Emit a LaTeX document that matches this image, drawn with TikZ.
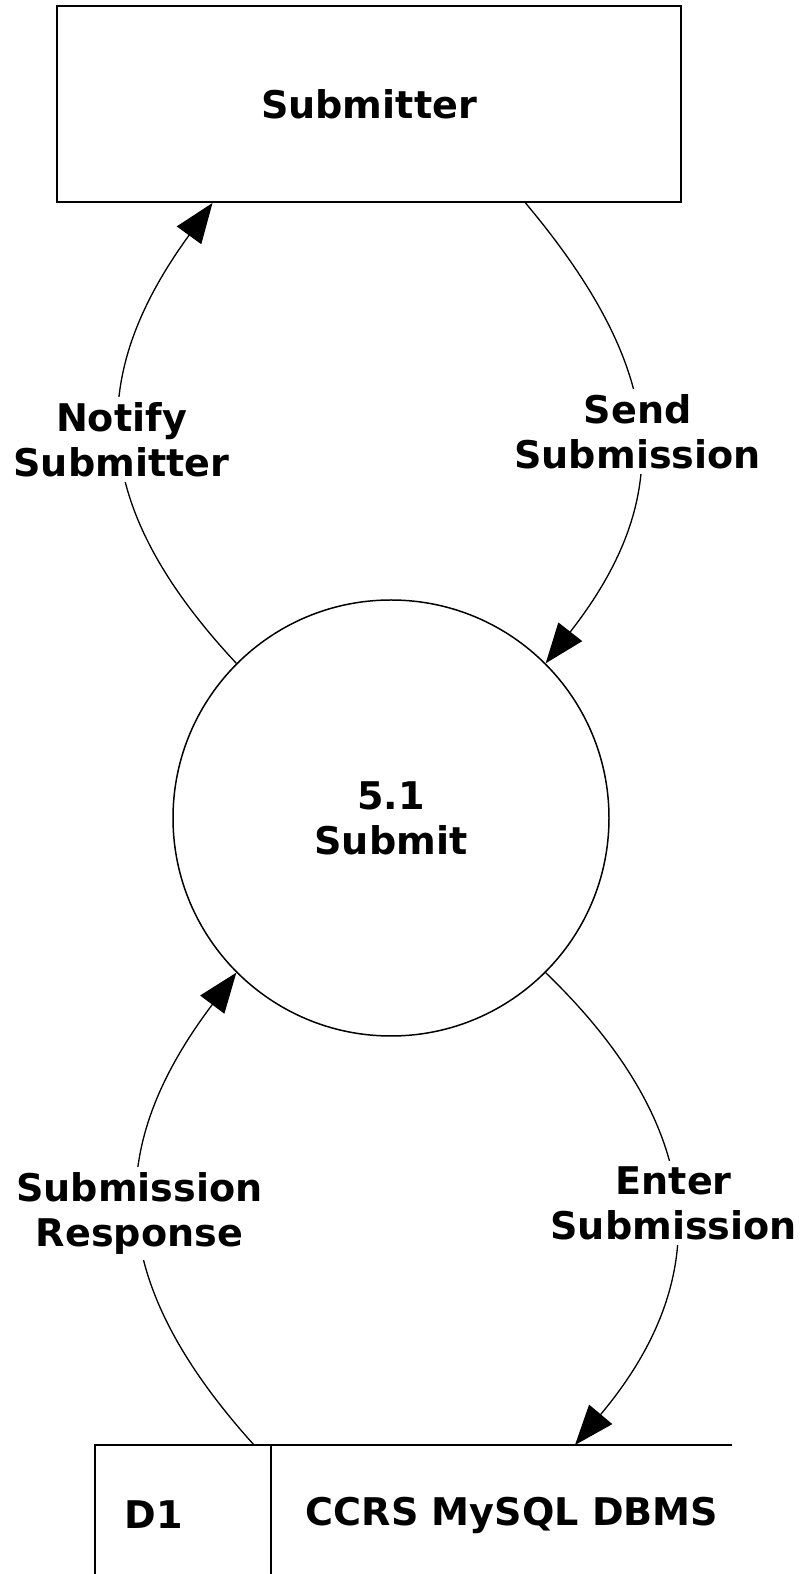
\documentclass[tikz,border=0pt]{standalone}
\usepackage{fontspec}
\setmainfont{DejaVu Sans}
\usetikzlibrary{arrows.meta,calc}
\begin{document}
\begin{tikzpicture}[
		every node/.style={font=\bfseries\fontsize{21.7}{25.6}\selectfont},
		flow/.style={line width=0.75pt,-{Triangle[length=8mm,width=6mm]},looseness=1.2},
		lbl/.style={fill=white,align=center,inner sep=3pt}]
			% Khung
			\useasboundingbox (0,0) rectangle (16.18,31.48);
			% Submitter
			\node[draw,line width=1.1pt,minimum width=12.48cm,minimum height=3.92cm,inner sep=0pt] (submitter) at (7.38,29.40) {Submitter};
			% Process 5.1
			\node[draw,circle,line width=0.85pt,minimum size=8.72cm,inner sep=0pt,align=center] (submit) at (7.82,15.12) {5.1\\Submit};
			% Data store D1
			\draw[line width=1.1pt] (1.90,0) -- (1.90,2.58) -- (14.64,2.58);
			\draw[line width=1.1pt] (5.42,0) -- (5.42,2.58);
			\node (dnum) at (3.08,1.18) {D1};
			\node (dstore) at (10.24,1.18) {CCRS MySQL DBMS};
			\coordinate (dleft) at (5.08,2.58);
			\coordinate (dright) at (11.50,2.58);
			% Flows
			\draw[flow] (submit.135) to[out=133,in=234] node[lbl] {Notify\\Submitter} ($(submitter.south west)!0.25!(submitter.south east)$);
			\draw[flow] ($(submitter.south west)!0.75!(submitter.south east)$) to[out=-50,in=52] node[lbl] {Send\\Submission} (submit.45);
			\draw[flow] (submit.315) to[out=-44,in=50] node[lbl] {Enter\\Submission} (dright);
			\draw[flow] (dleft) to[out=132,in=233] node[lbl] {Submission\\Response} (submit.225);
\end{tikzpicture}
\end{document}
